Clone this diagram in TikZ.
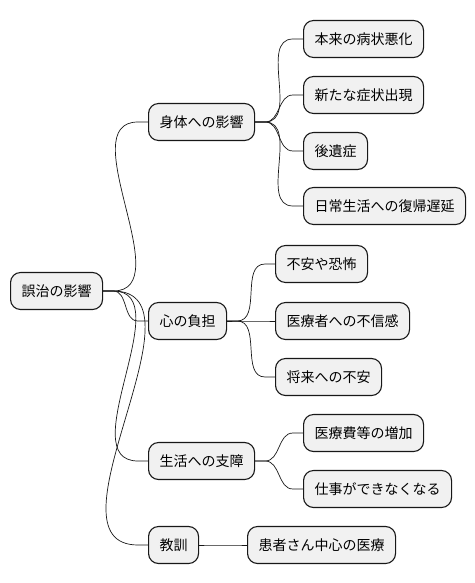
\documentclass[tikz,border=0pt]{standalone}
\usepackage{fontspec}
\setmainfont{Noto Sans CJK JP}
\usetikzlibrary{calc}
\definecolor{boxfill}{HTML}{F1F1F1}
\definecolor{boxline}{HTML}{181818}
\tikzset{
	topic/.style={draw=boxline, fill=boxfill, line width=1.1pt, rounded corners=10pt,
		anchor=west, minimum height=37pt, inner xsep=11pt, inner ysep=0pt,
		font=\fontsize{14}{16}\selectfont},
	conn/.style={draw=boxline, line width=0.7pt}
}
\begin{document}
\begin{tikzpicture}[x=1pt, y=-1pt]
	\useasboundingbox (0,0) rectangle (474,583);
	% root and main branches
	\node[topic] (root) at (10,291) {誤治の影響};
	\node[topic] (body) at (148,122) {身体への影響};
	\node[topic] (mind) at (148,321) {心の負担};
	\node[topic] (life) at (148,461) {生活への支障};
	\node[topic] (lesson) at (148,545) {教訓};
	% leaves
	\node[topic] (worse) at (303,39) {本来の病状悪化};
	\node[topic] (newsym) at (303,95) {新たな症状出現};
	\node[topic] (sequel) at (303,151) {後遺症};
	\node[topic] (delay) at (303,206) {日常生活への復帰遅延};
	\node[topic] (fear) at (275,264) {不安や恐怖};
	\node[topic] (distrust) at (275,321) {医療者への不信感};
	\node[topic] (future) at (275,377) {将来への不安};
	\node[topic] (cost) at (303,433) {医療費等の増加};
	\node[topic] (work) at (303,489) {仕事ができなくなる};
	\node[topic] (patient) at (247,545) {患者さん中心の医療};
	% connectors
	\foreach \a/\b in {root/body, root/mind, root/life, root/lesson,
		body/worse, body/newsym, body/sequel, body/delay,
		mind/fear, mind/distrust, mind/future,
		life/cost, life/work, lesson/patient}
		\draw[conn] (\a.east) --++ (10,0) to [out=0, in=180] ($(\b.west)+(-10,0)$) -- (\b.west);
\end{tikzpicture}
\end{document}
